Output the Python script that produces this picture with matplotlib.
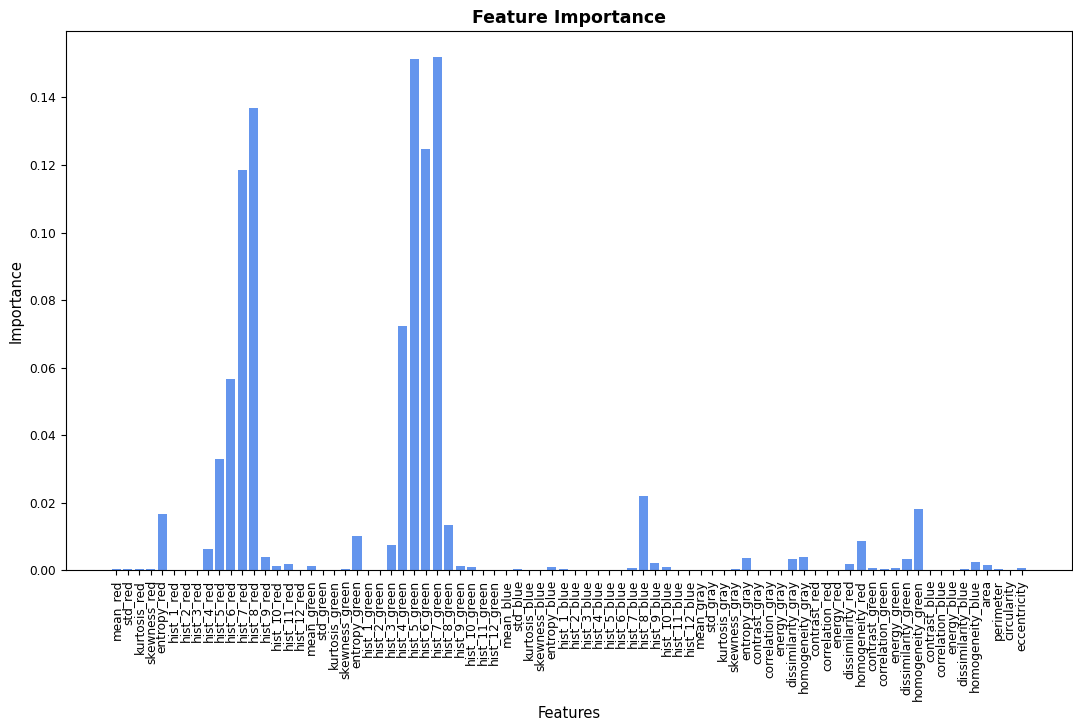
import matplotlib
matplotlib.use('Agg')
import matplotlib.pyplot as plt
import numpy as np

# feature names, in model column order
stats = ['mean', 'std', 'kurtosis', 'skewness', 'entropy']
hists = [f'hist_{i}' for i in range(1, 13)]
glcm = ['contrast', 'correlation', 'energy', 'dissimilarity', 'homogeneity']

features = []
for ch in ['red', 'green', 'blue']:
    features += [f'{s}_{ch}' for s in stats] + [f'{h}_{ch}' for h in hists]
features += [f'{s}_gray' for s in stats]
for ch in ['gray', 'red', 'green', 'blue']:
    features += [f'{g}_{ch}' for g in glcm]
features += ['area', 'perimeter', 'circularity', 'eccentricity']

imp_red = [0.0003, 0.0005, 0.0005, 0.0005, 0.0168,
           0.0002, 0.0, 0.0, 0.0064, 0.0328, 0.0567, 0.1184, 0.1368,
           0.0040, 0.0014, 0.0018, 0.0]
imp_green = [0.0012, 0.0002, 0.0002, 0.0005, 0.0101,
             0.0002, 0.0, 0.0075, 0.0724, 0.1515, 0.1246, 0.1521, 0.0134,
             0.0014, 0.0010, 0.0, 0.0]
imp_blue = [0.0002, 0.0004, 0.0002, 0.0002, 0.0010,
            0.0004, 0.0, 0.0002, 0.0, 0.0, 0.0002, 0.0007, 0.0220,
            0.0021, 0.0010, 0.0, 0.0]
imp_gray = [0.0002, 0.0002, 0.0001, 0.0004, 0.0036]
imp_texture = [0.0002, 0.0002, 0.0002, 0.0033, 0.0040,   # gray
               0.0002, 0.0002, 0.0002, 0.0017, 0.0087,   # red
               0.0007, 0.0004, 0.0007, 0.0033, 0.0180,   # green
               0.0002, 0.0, 0.0002, 0.0004, 0.0023]      # blue
imp_shape = [0.0015, 0.0004, 0.0002, 0.0007]

importance = np.array(imp_red + imp_green + imp_blue + imp_gray + imp_texture + imp_shape)

fig, ax = plt.subplots(figsize=(10.73, 7.2), dpi=100)
ax.bar(features, importance, color='cornflowerblue')
ax.set_title('Feature Importance', fontsize=12.5, fontweight='bold')
ax.set_xlabel('Features', fontsize=10.5)
ax.set_ylabel('Importance', fontsize=10.5)
ax.tick_params(axis='x', rotation=90, labelsize=8.7)
ax.tick_params(axis='y', labelsize=8.7)
plt.subplots_adjust(left=0.0615, right=0.999, top=0.957, bottom=0.208)
plt.savefig('out.png', dpi=100)
